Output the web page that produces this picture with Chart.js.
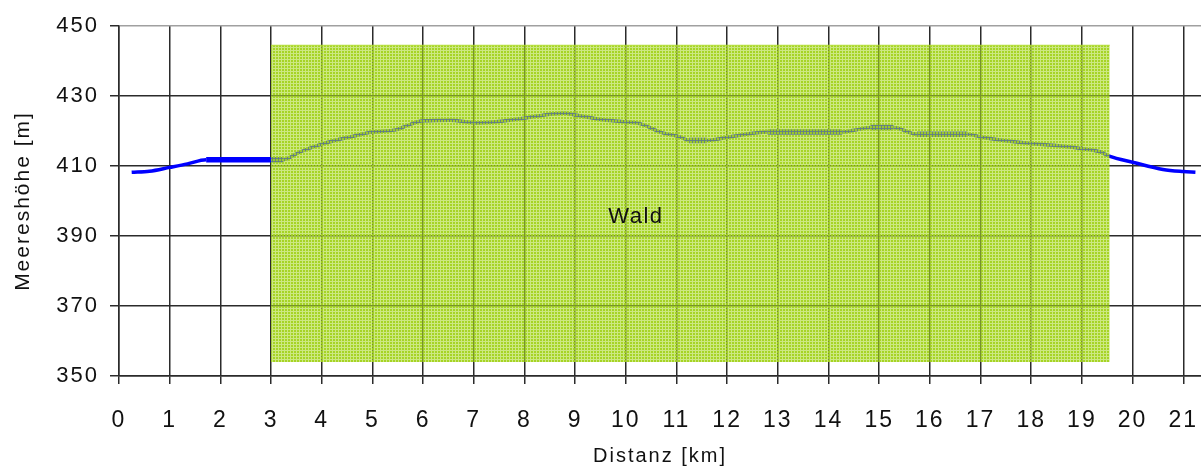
<!DOCTYPE html>
<html>
<head>
<meta charset="utf-8">
<script src="https://cdn.jsdelivr.net/npm/chart.js@4/dist/chart.umd.min.js"></script>
<style>
html,body{margin:0;padding:0;background:#fff;}
canvas{display:block;}
</style>
</head>
<body>
<canvas id="c" width="1201" height="472"></canvas>
<script>
// ---- data ----
const distanceKm = [0.25, 0.6, 1.0, 1.35, 1.72, 3.0, 3.24, 3.57, 4.03, 4.56, 5.0, 5.48, 5.75, 6.0, 6.53, 7.06, 7.55, 8.05, 8.51, 8.77, 9.04, 9.5, 10.0, 10.28, 10.68, 11.07, 11.25, 11.6, 12.12, 12.8, 14.27, 14.5, 14.83, 15.28, 15.75, 16.74, 17.0, 17.99, 18.44, 18.97, 19.37, 19.54, 20.02, 20.6, 21.0, 21.24];
const elevationM = [408.2, 408.5, 409.6, 410.6, 411.8, 411.8, 411.8, 414.0, 416.4, 418.3, 419.7, 420.4, 421.9, 422.9, 423.1, 422.3, 422.8, 423.8, 424.8, 425.1, 424.5, 423.3, 422.6, 422.1, 419.7, 418.3, 417.3, 417.3, 418.5, 419.7, 419.7, 420.2, 421.0, 421.0, 419.1, 419.1, 418.3, 416.4, 415.9, 415.0, 414.0, 412.8, 411.0, 409.0, 408.4, 408.2];
const forestKm = [3.0, 19.55];
const forestTopM = 444.5;
const forestBottomM = 354;
const forestLabel = 'Wald';
const xTitle = 'Distanz [km]';
const yTitle = 'Meereshöhe [m]';

// ---- forest pattern ----
function makePattern() {
  const t = document.createElement('canvas');
  t.width = 3; t.height = 3;
  const g = t.getContext('2d');
  for (let x = 0; x < 3; x++) {
    for (let y = 0; y < 3; y++) {
      const hole = (x === 2 || y === 2);
      g.fillStyle = hole ? 'rgba(170,216,45,0.6)' : 'rgba(162,210,28,0.96)';
      g.fillRect(x, y, 1, 1);
    }
  }
  return document.getElementById('c').getContext('2d').createPattern(t, 'repeat');
}
const forestPattern = makePattern();

const FONT = "'Liberation Sans', Arial, sans-serif";
const GRID = '#2b2b2b';
const SPACING = '2px';

const spacingPlugin = {
  id: 'spacing',
  beforeUpdate(c) { c.ctx.letterSpacing = SPACING; },
  beforeLayout(c) { c.ctx.letterSpacing = SPACING; },
  beforeDraw(c) { c.ctx.letterSpacing = SPACING; }
};

const labelPlugin = {
  id: 'forestLabel',
  afterDatasetsDraw(c, args, opts) {
    const ctx = c.ctx;
    const x = c.scales.x.getPixelForValue(opts.x);
    const y = c.scales.y.getPixelForValue(opts.y);
    ctx.save();
    ctx.letterSpacing = '1.5px';
    ctx.font = '22px ' + FONT;
    ctx.fillStyle = '#111';
    ctx.textAlign = 'center';
    ctx.textBaseline = 'middle';
    ctx.fillText(opts.text, x, y);
    ctx.restore();
  }
};

new Chart(document.getElementById('c'), {
  type: 'line',
  data: {
    datasets: [
      {
        label: forestLabel,
        data: forestKm.map(k => ({x: k, y: forestTopM})),
        borderColor: 'rgba(175,220,45,0.9)',
        borderWidth: 1,
        backgroundColor: forestPattern,
        fill: {value: forestBottomM},
        pointRadius: 0
      },
      {
        label: 'Höhe',
        data: distanceKm.map((k, i) => ({x: k, y: elevationM[i]})),
        borderColor: '#0000ff',
        borderWidth: 3.5,
        cubicInterpolationMode: 'monotone',
        pointRadius: 0,
        fill: false,
        segment: {
          borderWidth: ctx => ctx.p0.parsed.y === ctx.p1.parsed.y ? 5.5 : 3.5
        }
      }
    ]
  },
  options: {
    responsive: false,
    animation: false,
    devicePixelRatio: 1,
    layout: {padding: {top: 26, right: 0, left: 0, bottom: 0}},
    plugins: {
      legend: {display: false},
      tooltip: {enabled: false},
      forestLabel: {text: forestLabel, x: 10.2, y: 395.5}
    },
    scales: {
      x: {
        type: 'linear',
        min: 0,
        max: 21.35,
        afterFit(s) { s.height = 96; s.paddingRight = 0; s.paddingLeft = 0; },
        ticks: {
          stepSize: 1,
          includeBounds: false,
          color: '#111',
          font: {family: FONT, size: 23},
          padding: 23,
          maxRotation: 0
        },
        grid: {color: GRID, lineWidth: 1.5, tickLength: 8, tickColor: GRID, tickWidth: 1.5},
        border: {color: GRID, width: 1.5},
        title: {display: true, text: xTitle, color: '#111', font: {family: FONT, size: 20}, padding: {top: 0, bottom: 4}}
      },
      y: {
        min: 350,
        max: 450,
        afterFit(s) { s.width = 119; },
        ticks: {
          stepSize: 20,
          color: '#111',
          font: {family: FONT, size: 22},
          padding: 11
        },
        grid: {
          color: ctx => (ctx.tick && ctx.tick.value === 450) ? '#a0a0a0' : GRID,
          lineWidth: 1.5, tickLength: 9, tickColor: GRID, tickWidth: 1.5
        },
        border: {color: GRID, width: 1.5},
        title: {display: true, text: yTitle, color: '#111', font: {family: FONT, size: 21}, padding: {top: 11, bottom: 0}}
      }
    }
  },
  plugins: [spacingPlugin, labelPlugin]
});
</script>
</body>
</html>
